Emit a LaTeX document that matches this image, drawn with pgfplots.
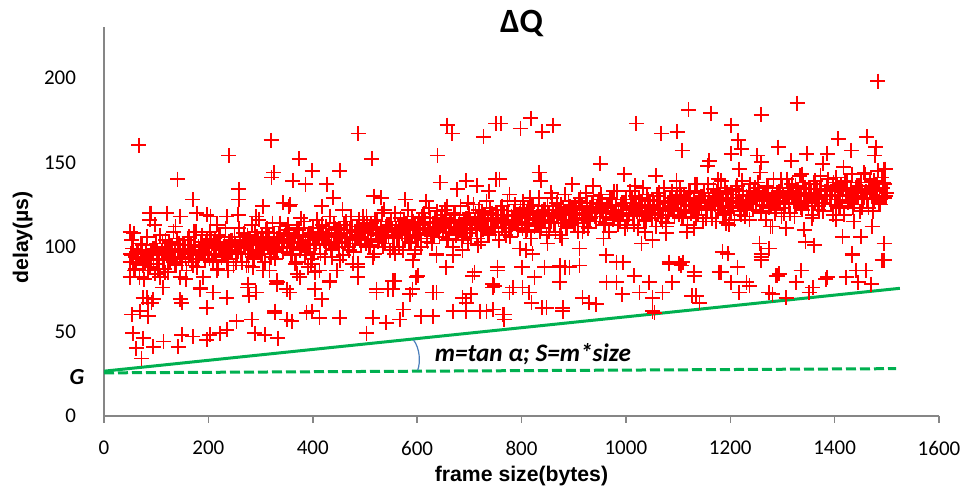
\documentclass[border=0pt]{standalone}
\usepackage{fontspec}
\setmainfont{Carlito}
\newfontfamily\arialfont{Liberation Sans}
\usepackage{pgfplots}
\pgfplotsset{compat=1.18}
\definecolor{mygreen}{HTML}{00B050}
\definecolor{axgray}{HTML}{868686}
\definecolor{arcblue}{HTML}{4A7EBB}
\begin{document}
\begin{tikzpicture}
\useasboundingbox (-52pt,-38pt) rectangle (429.5pt,208pt);
\begin{axis}[
  scale only axis, width=417.5pt, height=194.5pt,
  xmin=0, xmax=1600, ymin=0, ymax=230,
  axis lines=left, axis line style={-, draw=axgray, line width=0.75pt},
  xtick={0,200,...,1600}, ytick={0,50,...,200},
  tick align=outside, major tick length=3.5pt,
  xtick style={draw=axgray, line width=0.75pt},
  ytick style={draw=none},
  tick label style={font=\fontsize{10.5}{12}\selectfont},
  /pgf/number format/assume math mode=true,
  /pgf/number format/1000 sep={},
  yticklabel style={xshift=-7pt},
  xticklabel style={yshift=-5.5pt},
  title={ΔQ},
  every axis title shift=0pt,
  title style={font=\fontsize{17}{20}\selectfont\bfseries, at={(0.5,1)}, anchor=base, yshift=-3pt},
  xlabel={frame size(bytes)}, ylabel={delay(µs)},
  label style={font=\arialfont\bfseries\fontsize{10.6}{12}\selectfont},
  xlabel style={at={(axis description cs:0.5,0)}, anchor=base, yshift=-33pt},
  ylabel style={at={(axis description cs:-0.091,0.459)}, anchor=base},
  clip=false,
]
\addplot[only marks, mark=+, color=red, mark size=3.75pt, mark options={draw=red, line width=0.9pt}] coordinates {
(50,91)(55,99)(60,87)(65,96)(70,102)(75,89)(80,94)(85,86)(90,98)(95,93)
(100,102)(105,92)(110,97)(115,87)(120,99)(125,103)(130,94)(135,90)(140,105)(145,93)
(150,91)(155,99)(160,104)(165,96)(170,89)(175,101)(180,93)(185,103)(190,97)(195,100)
(200,96)(205,104)(210,92)(215,101)(220,107)(225,94)(230,99)(235,91)(240,103)(245,98)
(250,106)(255,96)(260,101)(265,91)(270,103)(275,107)(280,98)(285,94)(290,109)(295,97)
(300,96)(305,104)(310,109)(315,101)(320,94)(325,106)(330,98)(335,108)(340,102)(345,105)
(350,100)(355,108)(360,96)(365,105)(370,111)(375,98)(380,103)(385,95)(390,107)(395,102)
(400,111)(405,101)(410,106)(415,96)(420,108)(425,112)(430,103)(435,99)(440,114)(445,102)
(450,100)(455,108)(460,113)(465,105)(470,98)(475,110)(480,102)(485,112)(490,106)(495,109)
(500,105)(505,113)(510,101)(515,110)(520,116)(525,103)(530,108)(535,100)(540,112)(545,107)
(550,115)(555,105)(560,110)(565,100)(570,112)(575,116)(580,107)(585,103)(590,118)(595,106)
(600,105)(605,113)(610,118)(615,110)(620,103)(625,115)(630,107)(635,117)(640,111)(645,114)
(650,109)(655,117)(660,105)(665,114)(670,120)(675,107)(680,112)(685,104)(690,116)(695,111)
(700,120)(705,110)(710,115)(715,105)(720,117)(725,121)(730,112)(735,108)(740,123)(745,111)
(750,109)(755,117)(760,122)(765,114)(770,107)(775,119)(780,111)(785,121)(790,115)(795,118)
(800,114)(805,122)(810,110)(815,119)(820,125)(825,112)(830,117)(835,109)(840,121)(845,116)
(850,124)(855,114)(860,119)(865,109)(870,121)(875,125)(880,116)(885,112)(890,127)(895,115)
(900,114)(905,122)(910,127)(915,119)(920,112)(925,124)(930,116)(935,126)(940,120)(945,123)
(950,118)(955,126)(960,114)(965,123)(970,129)(975,116)(980,121)(985,113)(990,125)(995,120)
(1000,128)(1005,118)(1010,123)(1015,113)(1020,125)(1025,129)(1030,120)(1035,116)(1040,131)(1045,119)
(1050,117)(1055,125)(1060,130)(1065,122)(1070,115)(1075,127)(1080,119)(1085,129)(1090,123)(1095,126)
(1100,122)(1105,130)(1110,118)(1115,127)(1120,133)(1125,120)(1130,125)(1135,117)(1140,129)(1145,124)
(1150,132)(1155,122)(1160,127)(1165,117)(1170,129)(1175,133)(1180,124)(1185,120)(1190,135)(1195,123)
(1200,121)(1205,129)(1210,134)(1215,126)(1220,119)(1225,131)(1230,123)(1235,133)(1240,127)(1245,130)
(1250,125)(1255,133)(1260,121)(1265,130)(1270,136)(1275,123)(1280,128)(1285,120)(1290,132)(1295,127)
(1300,135)(1305,125)(1310,130)(1315,120)(1320,132)(1325,136)(1330,127)(1335,123)(1340,138)(1345,126)
(1350,124)(1355,132)(1360,137)(1365,129)(1370,122)(1375,134)(1380,126)(1385,136)(1390,130)(1395,133)
(1400,128)(1405,136)(1410,124)(1415,133)(1420,139)(1425,126)(1430,131)(1435,123)(1440,135)(1445,130)
(1450,138)(1455,128)(1460,133)(1465,123)(1470,135)(1475,139)(1480,130)(1485,126)(1490,141)(1495,129)
(1500,132)
(52,95)(62,90)(72,98)(82,92)(92,97)(102,90)(112,102)(122,95)(132,93)(142,98)
(152,98)(162,93)(172,101)(182,95)(192,100)(202,93)(212,105)(222,98)(232,96)(242,101)
(252,101)(262,96)(272,104)(282,98)(292,103)(302,96)(312,108)(322,101)(332,99)(342,104)
(352,104)(362,99)(372,107)(382,101)(392,106)(402,99)(412,111)(422,104)(432,102)(442,107)
(452,107)(462,102)(472,110)(482,104)(492,109)(502,102)(512,114)(522,107)(532,105)(542,110)
(552,110)(562,105)(572,113)(582,107)(592,112)(602,105)(612,117)(622,110)(632,108)(642,113)
(652,113)(662,108)(672,116)(682,110)(692,115)(702,108)(712,120)(722,113)(732,111)(742,116)
(752,116)(762,111)(772,119)(782,113)(792,118)(802,111)(812,123)(822,116)(832,114)(842,119)
(852,119)(862,114)(872,122)(882,116)(892,121)(902,114)(912,126)(922,119)(932,117)(942,122)
(952,122)(962,117)(972,125)(982,119)(992,124)(1002,116)(1012,128)(1022,121)(1032,119)(1042,124)
(1052,124)(1062,119)(1072,127)(1082,121)(1092,126)(1102,119)(1112,131)(1122,124)(1132,122)(1142,127)
(1152,127)(1162,122)(1172,130)(1182,124)(1192,129)(1202,121)(1212,133)(1222,126)(1232,124)(1242,129)
(1252,129)(1262,124)(1272,132)(1282,126)(1292,131)(1302,123)(1312,135)(1322,128)(1332,126)(1342,131)
(1352,131)(1362,126)(1372,134)(1382,128)(1392,133)(1402,125)(1412,137)(1422,130)(1432,128)(1442,133)
(1452,133)(1462,128)(1472,136)(1482,130)(1492,135)
(53,104)(58,86)(63,97)(68,82)(73,101)(78,91)(83,106)(88,88)(93,99)(98,84)
(103,87)(108,107)(113,92)(118,104)(123,85)(128,98)(133,109)(138,89)(143,102)(148,94)
(153,101)(158,86)(163,106)(168,91)(173,109)(178,88)(183,98)(188,107)(193,92)(198,105)
(203,109)(208,91)(213,102)(218,87)(223,106)(228,96)(233,111)(238,93)(243,104)(248,89)
(253,91)(258,111)(263,96)(268,108)(273,89)(278,102)(283,113)(288,93)(293,106)(298,98)
(303,106)(308,91)(313,111)(318,96)(323,114)(328,93)(333,103)(338,112)(343,97)(348,110)
(353,113)(358,95)(363,106)(368,91)(373,110)(378,100)(383,115)(388,97)(393,108)(398,93)
(403,96)(408,116)(413,101)(418,113)(423,94)(428,107)(433,118)(438,98)(443,111)(448,103)
(453,110)(458,95)(463,115)(468,100)(473,118)(478,97)(483,107)(488,116)(493,101)(498,114)
(503,118)(508,100)(513,111)(518,96)(523,115)(528,105)(533,120)(538,102)(543,113)(548,98)
(553,100)(558,120)(563,105)(568,117)(573,98)(578,111)(583,122)(588,102)(593,115)(598,107)
(603,115)(608,100)(613,120)(618,105)(623,123)(628,102)(633,112)(638,121)(643,106)(648,119)
(653,122)(658,104)(663,115)(668,100)(673,119)(678,109)(683,124)(688,106)(693,117)(698,102)
(703,105)(708,125)(713,110)(718,122)(723,103)(728,116)(733,127)(738,107)(743,120)(748,112)
(753,119)(758,104)(763,124)(768,109)(773,127)(778,106)(783,116)(788,125)(793,110)(798,123)
(803,127)(808,109)(813,120)(818,105)(823,124)(828,114)(833,129)(838,111)(843,122)(848,107)
(853,109)(858,129)(863,114)(868,126)(873,107)(878,120)(883,131)(888,111)(893,124)(898,116)
(903,124)(908,109)(913,129)(918,114)(923,132)(928,111)(933,121)(938,130)(943,115)(948,128)
(953,131)(958,113)(963,124)(968,109)(973,128)(978,118)(983,133)(988,115)(993,126)(998,111)
(1003,113)(1008,133)(1013,118)(1018,130)(1023,111)(1028,124)(1033,135)(1038,115)(1043,128)(1048,120)
(1053,127)(1058,112)(1063,132)(1068,117)(1073,135)(1078,114)(1083,124)(1088,133)(1093,118)(1098,131)
(1103,135)(1108,117)(1113,128)(1118,113)(1123,132)(1128,122)(1133,137)(1138,119)(1143,130)(1148,115)
(1153,117)(1158,137)(1163,122)(1168,134)(1173,115)(1178,128)(1183,139)(1188,119)(1193,132)(1198,124)
(1203,131)(1208,116)(1213,136)(1218,121)(1223,139)(1228,118)(1233,128)(1238,137)(1243,122)(1248,135)
(1253,138)(1258,120)(1263,131)(1268,116)(1273,135)(1278,125)(1283,140)(1288,122)(1293,133)(1298,118)
(1303,120)(1308,140)(1313,125)(1318,137)(1323,118)(1328,131)(1333,142)(1338,122)(1343,135)(1348,127)
(1353,134)(1358,119)(1363,139)(1368,124)(1373,142)(1378,121)(1383,131)(1388,140)(1393,125)(1398,138)
(1403,141)(1408,123)(1413,134)(1418,119)(1423,138)(1428,128)(1433,143)(1438,125)(1443,136)(1448,121)
(1453,123)(1458,143)(1463,128)(1468,140)(1473,121)(1478,134)(1483,145)(1488,125)(1493,138)(1498,130)
(51,96)(56,91)(61,94)(66,98)(71,93)(76,90)(81,97)(86,95)(91,92)(96,99)
(101,98)(106,93)(111,96)(116,100)(121,95)(126,92)(131,99)(136,97)(141,94)(146,101)
(151,99)(156,94)(161,97)(166,101)(171,96)(176,93)(181,100)(186,98)(191,95)(196,102)
(201,101)(206,96)(211,99)(216,103)(221,98)(226,95)(231,102)(236,100)(241,97)(246,104)
(251,102)(256,97)(261,100)(266,104)(271,99)(276,96)(281,103)(286,101)(291,98)(296,105)
(301,104)(306,99)(311,102)(316,106)(321,101)(326,98)(331,105)(336,103)(341,100)(346,107)
(351,105)(356,100)(361,103)(366,107)(371,102)(376,99)(381,106)(386,104)(391,101)(396,108)
(401,107)(406,102)(411,105)(416,109)(421,104)(426,101)(431,108)(436,106)(441,103)(446,110)
(451,108)(456,103)(461,106)(466,110)(471,105)(476,102)(481,109)(486,107)(491,104)(496,111)
(501,110)(506,105)(511,108)(516,112)(521,107)(526,104)(531,111)(536,109)(541,106)(546,113)
(551,111)(556,106)(561,109)(566,113)(571,108)(576,105)(581,112)(586,110)(591,107)(596,114)
(601,113)(606,108)(611,111)(616,115)(621,110)(626,107)(631,114)(636,112)(641,109)(646,116)
(651,114)(656,109)(661,112)(666,116)(671,111)(676,108)(681,115)(686,113)(691,110)(696,117)
(701,116)(706,111)(711,114)(716,118)(721,113)(726,110)(731,117)(736,115)(741,112)(746,119)
(751,117)(756,112)(761,115)(766,119)(771,114)(776,111)(781,118)(786,116)(791,113)(796,120)
(801,119)(806,114)(811,117)(816,121)(821,116)(826,113)(831,120)(836,118)(841,115)(846,122)
(851,120)(856,115)(861,118)(866,122)(871,117)(876,114)(881,121)(886,119)(891,116)(896,123)
(901,122)(906,117)(911,120)(916,124)(921,119)(926,116)(931,123)(936,121)(941,118)(946,125)
(951,123)(956,118)(961,121)(966,125)(971,120)(976,117)(981,124)(986,122)(991,119)(996,126)
(1001,124)(1006,119)(1011,122)(1016,126)(1021,121)(1026,118)(1031,125)(1036,123)(1041,120)(1046,127)
(1051,125)(1056,120)(1061,123)(1066,127)(1071,122)(1076,119)(1081,126)(1086,124)(1091,121)(1096,128)
(1101,127)(1106,122)(1111,125)(1116,129)(1121,124)(1126,121)(1131,128)(1136,126)(1141,123)(1146,130)
(1151,128)(1156,123)(1161,126)(1166,130)(1171,125)(1176,122)(1181,129)(1186,127)(1191,124)(1196,131)
(1201,129)(1206,124)(1211,127)(1216,131)(1221,126)(1226,123)(1231,130)(1236,128)(1241,125)(1246,132)
(1251,130)(1256,125)(1261,128)(1266,132)(1271,127)(1276,124)(1281,131)(1286,129)(1291,126)(1296,133)
(1301,131)(1306,126)(1311,129)(1316,133)(1321,128)(1326,125)(1331,132)(1336,130)(1341,127)(1346,134)
(1351,132)(1356,127)(1361,130)(1366,134)(1371,129)(1376,126)(1381,133)(1386,131)(1391,128)(1396,135)
(1401,133)(1406,128)(1411,131)(1416,135)(1421,130)(1426,127)(1431,134)(1436,132)(1441,129)(1446,136)
(1451,134)(1456,129)(1461,132)(1466,136)(1471,131)(1476,128)(1481,135)(1486,133)(1491,130)(1496,137)
(57,108)(77,81)(97,113)(117,85)(137,112)(157,81)(177,109)(197,119)(217,113)(237,86)
(257,119)(277,89)(297,116)(317,86)(337,114)(357,125)(377,117)(397,90)(417,124)(437,94)
(457,122)(477,90)(497,118)(517,130)(537,122)(557,96)(577,128)(597,98)(617,127)(637,95)
(657,124)(677,134)(697,126)(717,101)(737,133)(757,104)(777,131)(797,99)(817,129)(837,139)
(857,132)(877,105)(897,137)(917,109)(937,136)(957,105)(977,133)(997,143)(1017,136)(1037,109)
(1057,142)(1077,112)(1097,139)(1117,109)(1137,137)(1157,148)(1177,140)(1197,113)(1217,146)(1237,116)
(1257,144)(1277,112)(1297,140)(1317,151)(1337,143)(1357,117)(1377,149)(1397,119)(1417,147)(1437,115)
(1457,144)(1477,154)(1497,146)
(67,160)(320,163)(239,154)(141,140)(170,128)(258,134)(258,128)(325,144)(321,141)(374,152)
(362,139)(386,137)(399,145)(427,137)(452,145)(487,167)(513,152)(658,172)(667,167)(639,154)
(644,138)(727,165)(694,139)(714,136)(751,173)(751,140)(439,129)(531,129)(91,120)(50,109)
(760,173)(798,170)(818,176)(840,168)(861,172)(1020,173)(1068,167)(1098,168)(1108,157)(1120,181)
(1163,179)(1202,172)(1215,163)(1221,158)(1259,178)(1328,185)(1483,198)(1292,159)(1407,164)(1462,165)
(1479,159)(758,140)(834,144)(951,149)(1202,155)(1252,154)(1347,155)(1386,155)(1432,157)(1495,146)
(1259,150)(1160,151)
(88,120)(88,116)(120,120)(146,118)(178,120)(204,118)(235,118)(292,118)(304,124)(343,126)(355,124)
(53,60)(69,62)(85,59)(55,49)(75,46)(62,40)(72,34)(94,41)(114,44)(142,41)
(149,48)(170,47)(197,45)(203,48)(222,49)(235,51)(254,56)(283,57)(289,49)(308,48)
(333,46)(327,62)(350,57)(398,62)(413,58)(452,58)(503,49)(515,58)(541,55)(567,57)
(573,63)(608,59)(630,59)(669,62)(694,62)(720,62)(746,63)
(82,70)(91,67)(149,67)(184,76)(209,73)(235,70)(276,78)(292,73)(331,78)(331,80)
(356,73)(375,82)(404,75)(417,69)(432,79)(486,82)(522,73)(544,75)(557,80)(586,72)
(598,82)(630,73)(694,67)(703,72)(706,83)(745,78)(669,95)(592,92)(486,90)(446,86)(413,86)
(754,86)(802,88)(825,82)(873,88)(883,88)(911,89)(748,77)(783,76)(815,73)(819,67)
(848,64)(879,62)(733,62)(767,60)(767,57)(930,67)(963,79)(982,79)(993,72)(1016,83)
(1026,73)(1045,79)(1051,70)(1055,61)(1070,73)(1083,90)(1102,90)(1089,79)(1131,83)(1135,71)
(1126,71)(1141,67)(1179,85)(1202,79)(1217,73)(1231,79)(1237,77)(1259,94)(1274,73)(1281,72)
(1290,83)(1307,70)(1326,79)(1336,86)(1351,73)(1358,76)(1386,82)(1422,82)(1441,86)(1460,86)
(1470,78)(1445,79)(1495,92)(1434,95)(1259,96)
(1256,102)(1275,99)(1259,92)(1185,97)(1195,96)(1183,85)(1214,88)(1342,110)(1344,103)(1361,101)
(1434,96)(1450,106)(1415,106)(1495,102)(1491,92)(1472,112)(1403,116)(1307,111)(1281,112)(1192,114)
(1131,111)(1109,91)(1131,85)(1288,83)(1294,84)(1336,86)(1383,81)
(1030,102)(1051,104)(1077,108)(962,95)(982,91)(995,91)(1083,91)(1106,89)(911,99)(892,88)
(873,89)(821,96)(809,98)(844,88)(850,102)(800,88)(754,88)(825,82)(873,79)(802,76)
(777,73)(917,70)(943,66)(879,64)(840,64)(764,60)(1051,62)
(391,88)(404,85)(433,80)(452,92)(486,88)(515,94)(553,80)(595,96)(601,83)(637,96)
(656,88)(687,98)(710,85)(745,76)(522,75)(553,75)(591,75)(637,73)(687,70)(417,69)
(75,70)(85,67)(94,69)(146,69)(184,75)(197,64)(235,70)(275,76)(278,71)(332,79)
(350,75)(113,76)(327,61)(360,56)(388,61)
(50,82)(107,82)(146,82)(190,82)(217,86)(285,88)(305,86)(366,90)(370,84)
};
\addplot[color=mygreen, line width=1.5pt] coordinates {(0,26.5) (1525,75.5)};
\addplot[color=mygreen, line width=1.5pt, dash pattern=on 5pt off 2pt] coordinates {(0,25.5) (1518,28)};
\draw[arcblue, line width=0.6pt] (axis cs:593,45) .. controls (axis cs:605,40.2) and (axis cs:607,32) .. (axis cs:601,27);
\node[font=\bfseries\itshape\fontsize{12.6}{14}\selectfont, anchor=base west, inner sep=0pt] at (axis cs:633,32) {m=tan α; S=m*size};
\node[font=\bfseries\itshape\fontsize{11.5}{13}\selectfont, xshift=-13.5pt] at (axis cs:0,23) {G};
\end{axis}
\end{tikzpicture}
\end{document}
